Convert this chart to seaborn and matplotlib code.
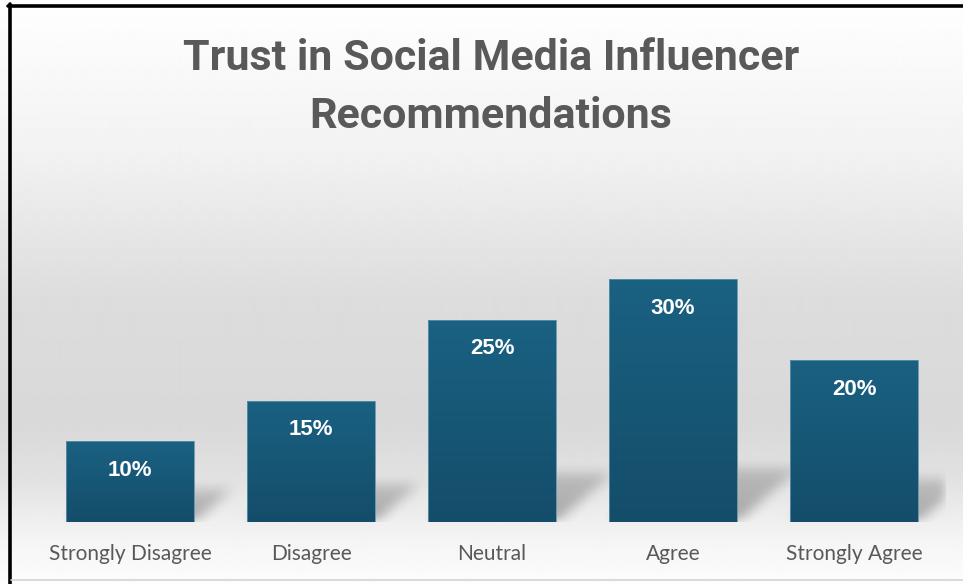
import numpy as np
import pandas as pd
import matplotlib
matplotlib.use("Agg")
import matplotlib.pyplot as plt
from matplotlib.lines import Line2D
from matplotlib.colors import LinearSegmentedColormap
import seaborn as sns

# Survey responses
categories = ["Strongly Disagree", "Disagree", "Neutral", "Agree", "Strongly Agree"]
shares = [10, 15, 25, 30, 20]
value_labels = ["10%", "15%", "25%", "30%", "20%"]
title_lines = ["Trust in Social Media Influencer", "Recommendations"]

W, H = 963, 584
sns.set_theme(style="white")
plt.rcParams["font.family"] = ["Lato", "DejaVu Sans"]

fig = plt.figure(figsize=(W / 100, H / 100), dpi=100)
fig.patch.set_facecolor("white")

# Chart-area background: soft vertical gray gradient
bg = fig.add_axes([0, 0, 1, 1], zorder=-10)
bg.set_axis_off()
stops_px = [0, 10, 150, 300, 420, 480, 540, 584]
stops_gray = [0.995, 0.995, 0.95, 0.865, 0.848, 0.885, 0.96, 0.99]
ys = np.arange(H)
col = np.interp(ys, stops_px, stops_gray)
bg_img = np.repeat(col[:, None], 8, axis=1)
bg.imshow(bg_img, cmap="gray", vmin=0, vmax=1, aspect="auto",
          extent=[0, 1, 0, 1], origin="upper", interpolation="bilinear")
bg.set_xlim(0, 1)
bg.set_ylim(0, 1)

# Frame lines of the chart box
fig.add_artist(Line2D([9.5 / W, 9.5 / W], [0, 1 - 4 / H], color="black", lw=2.6,
                      transform=fig.transFigure))
fig.add_artist(Line2D([8 / W, 1], [1 - 5.5 / H, 1 - 5.5 / H], color="black", lw=2.6,
                      transform=fig.transFigure))
fig.add_artist(Line2D([11 / W, 1], [1 - 580 / H, 1 - 580 / H], color="#d4d4d4", lw=1.2,
                      transform=fig.transFigure))

# Plot area
ax_left, ax_right = 39.5, 944.5
ax_base, ax_top = 522, 160
ax = fig.add_axes([ax_left / W, (H - ax_base) / H, (ax_right - ax_left) / W,
                   (ax_base - ax_top) / H])
ax.patch.set_alpha(0)

df = pd.DataFrame({"category": categories, "share": shares})
sns.barplot(data=df, x="category", y="share", color="#175878", width=0.707,
            saturation=1, ax=ax, zorder=3)

ymax = (ax_base - ax_top) / 8.1
ax.set_xlim(-0.5, len(categories) - 0.5)
ax.set_ylim(0, ymax)
ax.set_xlabel("")
ax.set_ylabel("")
ax.set_yticks([])
sns.despine(ax=ax, left=True, bottom=True)
ax.tick_params(axis="x", length=0, pad=16, labelsize=15, labelcolor="#595959")

# Soft perspective shadows cast behind each bar
nx, ny = int(ax_right - ax_left), int(ax_base - ax_top)
gx = np.linspace(-0.5, len(categories) - 0.5, nx)
gy = np.linspace(ymax, 0, ny)
XX, YY = np.meshgrid(gx, gy)
mask = np.zeros_like(XX)
px_per_unit_y = ny / ymax
px_per_unit_x = nx / len(categories)
for p in ax.patches:
    x0, w, h = p.get_x(), p.get_width(), p.get_height()
    rise = 0.13 * h + 2.7
    run = rise * px_per_unit_y * 1.15 / px_per_unit_x
    t = YY / rise
    inside = (t >= 0) & (t <= 1) & (XX >= x0 + t * run) & (XX <= x0 + w + t * run)
    mask = np.maximum(mask, inside * (1 - 0.45 * np.clip(t, 0, 1)))


def box_blur(a, r, passes=3):
    k = np.ones(2 * r + 1) / (2 * r + 1)
    for _ in range(passes):
        a = np.apply_along_axis(lambda v: np.convolve(v, k, mode="same"), 1, a)
        a = np.apply_along_axis(lambda v: np.convolve(v, k, mode="same"), 0, a)
    return a


mask = box_blur(mask, 5)
shadow = np.zeros((ny, nx, 4))
shadow[..., 3] = 0.3 * mask
ax.imshow(shadow, extent=[-0.5, len(categories) - 0.5, 0, ymax], aspect="auto",
          origin="upper", zorder=1, interpolation="bilinear")
ax.set_xlim(-0.5, len(categories) - 0.5)
ax.set_ylim(0, ymax)

# Vertical gradient fill on the bars
bar_cmap = LinearSegmentedColormap.from_list("bar", ["#144d6a", "#1a6182"])
grad = np.linspace(0, 1, 256)[:, None]
for p in ax.patches:
    x0, w, h = p.get_x(), p.get_width(), p.get_height()
    im = ax.imshow(grad, cmap=bar_cmap, extent=[x0, x0 + w, 0, h], origin="lower",
                   aspect="auto", zorder=3.5)
    im.set_clip_path(p)
    p.set_edgecolor("#5d93ad")
    p.set_linewidth(0.6)
    p.set_zorder(4)
    p.set_facecolor("none")
ax.set_xlim(-0.5, len(categories) - 0.5)
ax.set_ylim(0, ymax)

# Value labels inside the bars
for i, (v, lab) in enumerate(zip(shares, value_labels)):
    ax.annotate(lab, (i, v), xytext=(0, -21), textcoords="offset points",
                ha="center", va="center", color="white", fontsize=16,
                fontweight="bold", family=["Liberation Sans", "DejaVu Sans"], zorder=5)

# Two-line title
for line, y_px in zip(title_lines, [58, 117]):
    fig.text(491 / W, 1 - y_px / H, line, ha="center", va="center", fontsize=31,
             fontweight="bold", color="#595959",
             family=["Roboto", "DejaVu Sans"])

fig.savefig("out.png", dpi=100)
